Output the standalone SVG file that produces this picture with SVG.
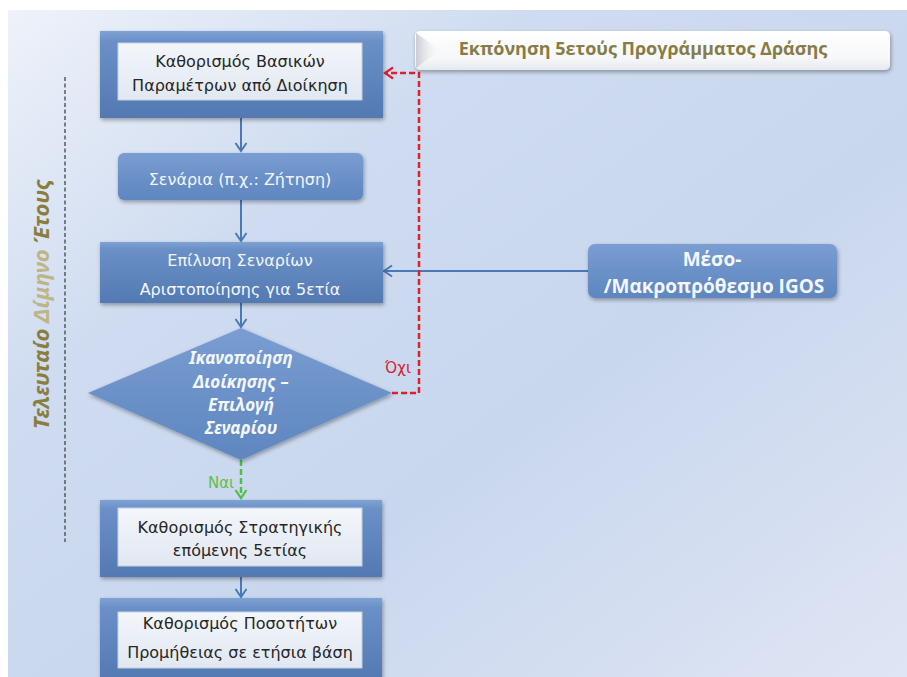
<svg xmlns="http://www.w3.org/2000/svg" width="907" height="677" viewBox="0 0 907 677">
  <defs>
    <linearGradient id="bg" x1="0" y1="0" x2="1" y2="1">
      <stop offset="0" stop-color="#eef2fa"/>
      <stop offset="0.3" stop-color="#cedbf0"/>
      <stop offset="0.6" stop-color="#c9d7ee"/>
      <stop offset="1" stop-color="#dfe5f4"/>
    </linearGradient>
    <linearGradient id="blueOuter" x1="0" y1="0" x2="0" y2="1">
      <stop offset="0" stop-color="#7ea2d4"/>
      <stop offset="0.12" stop-color="#6a90c7"/>
      <stop offset="1" stop-color="#5479b2"/>
    </linearGradient>
    <linearGradient id="blueFill" x1="0" y1="0" x2="0" y2="1">
      <stop offset="0" stop-color="#7a9ed2"/>
      <stop offset="0.5" stop-color="#6b91c8"/>
      <stop offset="1" stop-color="#5f86bf"/>
    </linearGradient>
    <linearGradient id="innerFill" x1="0" y1="0" x2="0" y2="1">
      <stop offset="0" stop-color="#f3f6fb"/>
      <stop offset="1" stop-color="#e1e8f2"/>
    </linearGradient>
    <linearGradient id="headerFill" x1="0" y1="0" x2="0" y2="1">
      <stop offset="0" stop-color="#ffffff"/>
      <stop offset="0.7" stop-color="#f6f7f9"/>
      <stop offset="1" stop-color="#e6e9ee"/>
    </linearGradient>
    <linearGradient id="headerTab" x1="0" y1="0" x2="1" y2="0">
      <stop offset="0" stop-color="#c9ccd2"/>
      <stop offset="1" stop-color="#f4f5f7" stop-opacity="0"/>
    </linearGradient>
    <filter id="shadow" x="-10%" y="-10%" width="120%" height="130%">
      <feGaussianBlur in="SourceAlpha" stdDeviation="2"/>
      <feOffset dx="1" dy="2" result="b"/>
      <feComponentTransfer><feFuncA type="linear" slope="0.35"/></feComponentTransfer>
      <feMerge><feMergeNode/><feMergeNode in="SourceGraphic"/></feMerge>
    </filter>
    <marker id="arrBlue" markerWidth="14" markerHeight="14" refX="11" refY="7" orient="auto" markerUnits="userSpaceOnUse">
      <path d="M3,1.5 L11,7 L3,12.5" fill="none" stroke="#4a78b8" stroke-width="2"/>
    </marker>
    <marker id="arrRed" markerWidth="14" markerHeight="14" refX="11" refY="7" orient="auto" markerUnits="userSpaceOnUse">
      <path d="M3,1.5 L11,7 L3,12.5" fill="none" stroke="#e0202c" stroke-width="2.2"/>
    </marker>
    <marker id="arrGreen" markerWidth="14" markerHeight="14" refX="11" refY="7" orient="auto" markerUnits="userSpaceOnUse">
      <path d="M3,1.5 L11,7 L3,12.5" fill="none" stroke="#4fbf47" stroke-width="2.2"/>
    </marker>
    <style>
      .outer { fill: url(#blueOuter); filter: url(#shadow); }
      .inner { fill: url(#innerFill); stroke: #c3cfe2; stroke-width: 1; }
      .blue { fill: url(#blueFill); filter: url(#shadow); }
      .dark { font-family: "DejaVu Sans", "Noto Sans", sans-serif; font-size: 16px; fill: #262626; text-anchor: middle; }
      .light { font-family: "DejaVu Sans", "Noto Sans", sans-serif; font-size: 16px; fill: #f2f6fc; text-anchor: middle; }
      .diam { font-family: "Noto Sans", "DejaVu Sans", sans-serif; font-size: 17px; font-weight: bold; font-style: italic; fill: #f4f7fc; text-anchor: middle; }
      .bold { font-family: "Open Sans", "Noto Sans", sans-serif; font-weight: bold; text-anchor: middle; }
      .conn { fill: none; stroke: #4a78b8; stroke-width: 2; }
    </style>
  </defs>

  <!-- page -->
  <rect x="0" y="0" width="907" height="677" fill="#ffffff"/>
  <rect x="8" y="10" width="899" height="667" fill="url(#bg)"/>

  <!-- period label -->
  <g id="period">
    <line x1="65" y1="77" x2="65" y2="542" stroke="#555a60" stroke-width="1.5" stroke-dasharray="4 2.5"/>
    <text transform="translate(49,304) rotate(-90)" text-anchor="middle" font-family="Noto Sans, DejaVu Sans, sans-serif" font-size="22" font-weight="bold" font-style="italic"><tspan fill="#8a7e3e">Τελευταίο </tspan><tspan fill="#bdb585">Δίμηνο </tspan><tspan fill="#8a7e3e">Έτους</tspan></text>
  </g>

  <!-- connectors -->
  <g id="connectors">
    <line class="conn" x1="241" y1="118" x2="241" y2="151" marker-end="url(#arrBlue)"/>
    <line class="conn" x1="241" y1="200" x2="241" y2="241" marker-end="url(#arrBlue)"/>
    <line class="conn" x1="241" y1="303" x2="241" y2="327" marker-end="url(#arrBlue)"/>
    <line class="conn" x1="588" y1="271" x2="384" y2="271" marker-end="url(#arrBlue)"/>
    <line class="conn" x1="241" y1="577" x2="241" y2="597" marker-end="url(#arrBlue)"/>
    <polyline points="392,393 419,393 419,73 385,73" fill="none" stroke="#e0202c" stroke-width="2.5" stroke-dasharray="6 3" marker-end="url(#arrRed)"/>
    <line x1="241" y1="460" x2="241" y2="498" stroke="#4fbf47" stroke-width="2.5" stroke-dasharray="6 3" marker-end="url(#arrGreen)"/>
    <text x="411" y="373" text-anchor="end" font-family="DejaVu Sans, sans-serif" font-size="15" fill="#d91f35">Όχι</text>
    <text x="221" y="488" text-anchor="middle" font-family="DejaVu Sans, sans-serif" font-size="15" fill="#5cc048">Ναι</text>
  </g>

  <!-- header -->
  <g id="header">
    <rect x="415" y="31" width="475" height="39" rx="5" fill="url(#headerFill)" filter="url(#shadow)"/>
    <path d="M416,33 L440,50 L416,68 Z" fill="url(#headerTab)"/>
    <text class="bold" x="643" y="55" font-size="18" fill="#877c46">Εκπόνηση 5ετούς Προγράμματος Δράσης</text>
  </g>

  <!-- flow nodes -->
  <g id="basic-params">
    <rect class="outer" x="100" y="31" width="283" height="87"/>
    <rect class="inner" x="118" y="43" width="244" height="57"/>
    <text class="dark" x="240" y="67">Καθορισμός Βασικών</text>
    <text class="dark" x="240" y="91">Παραμέτρων από Διοίκηση</text>
  </g>

  <g id="scenarios">
    <rect class="blue" x="118" y="153" width="245" height="47" rx="6"/>
    <text class="light" x="240" y="185">Σενάρια (π.χ.: Ζήτηση)</text>
  </g>

  <g id="solve">
    <rect class="outer" x="100" y="242" width="283" height="61"/>
    <text class="light" x="240" y="266">Επίλυση  Σεναρίων</text>
    <text class="light" x="240" y="295">Αριστοποίησης για 5ετία</text>
  </g>

  <g id="decision">
    <polygon class="blue" points="241,328 392,393 241,460 88,393"/>
    <text class="diam" x="241" y="364">Ικανοποίηση</text>
    <text class="diam" x="241" y="388">Διοίκησης –</text>
    <text class="diam" x="241" y="411">Επιλογή</text>
    <text class="diam" x="241" y="434">Σεναρίου</text>
  </g>

  <g id="igos">
    <rect class="blue" x="588" y="244" width="249" height="54" rx="7"/>
    <text class="bold" x="712" y="266" font-size="19" fill="#f4f7fc">Μέσο-</text>
    <text class="bold" x="714" y="293" font-size="19" fill="#f4f7fc">/Μακροπρόθεσμο IGOS</text>
  </g>

  <g id="strategy">
    <rect class="outer" x="100" y="500" width="282" height="77"/>
    <rect class="inner" x="118" y="508" width="244" height="58"/>
    <text class="dark" x="240" y="533">Καθορισμός Στρατηγικής</text>
    <text class="dark" x="240" y="556">επόμενης 5ετίας</text>
  </g>

  <g id="quantities">
    <rect class="outer" x="100" y="598" width="282" height="82"/>
    <rect class="inner" x="118" y="612" width="244" height="56"/>
    <text class="dark" x="240" y="629">Καθορισμός Ποσοτήτων</text>
    <text class="dark" x="240" y="658">Προμήθειας σε ετήσια βάση</text>
  </g>
</svg>
